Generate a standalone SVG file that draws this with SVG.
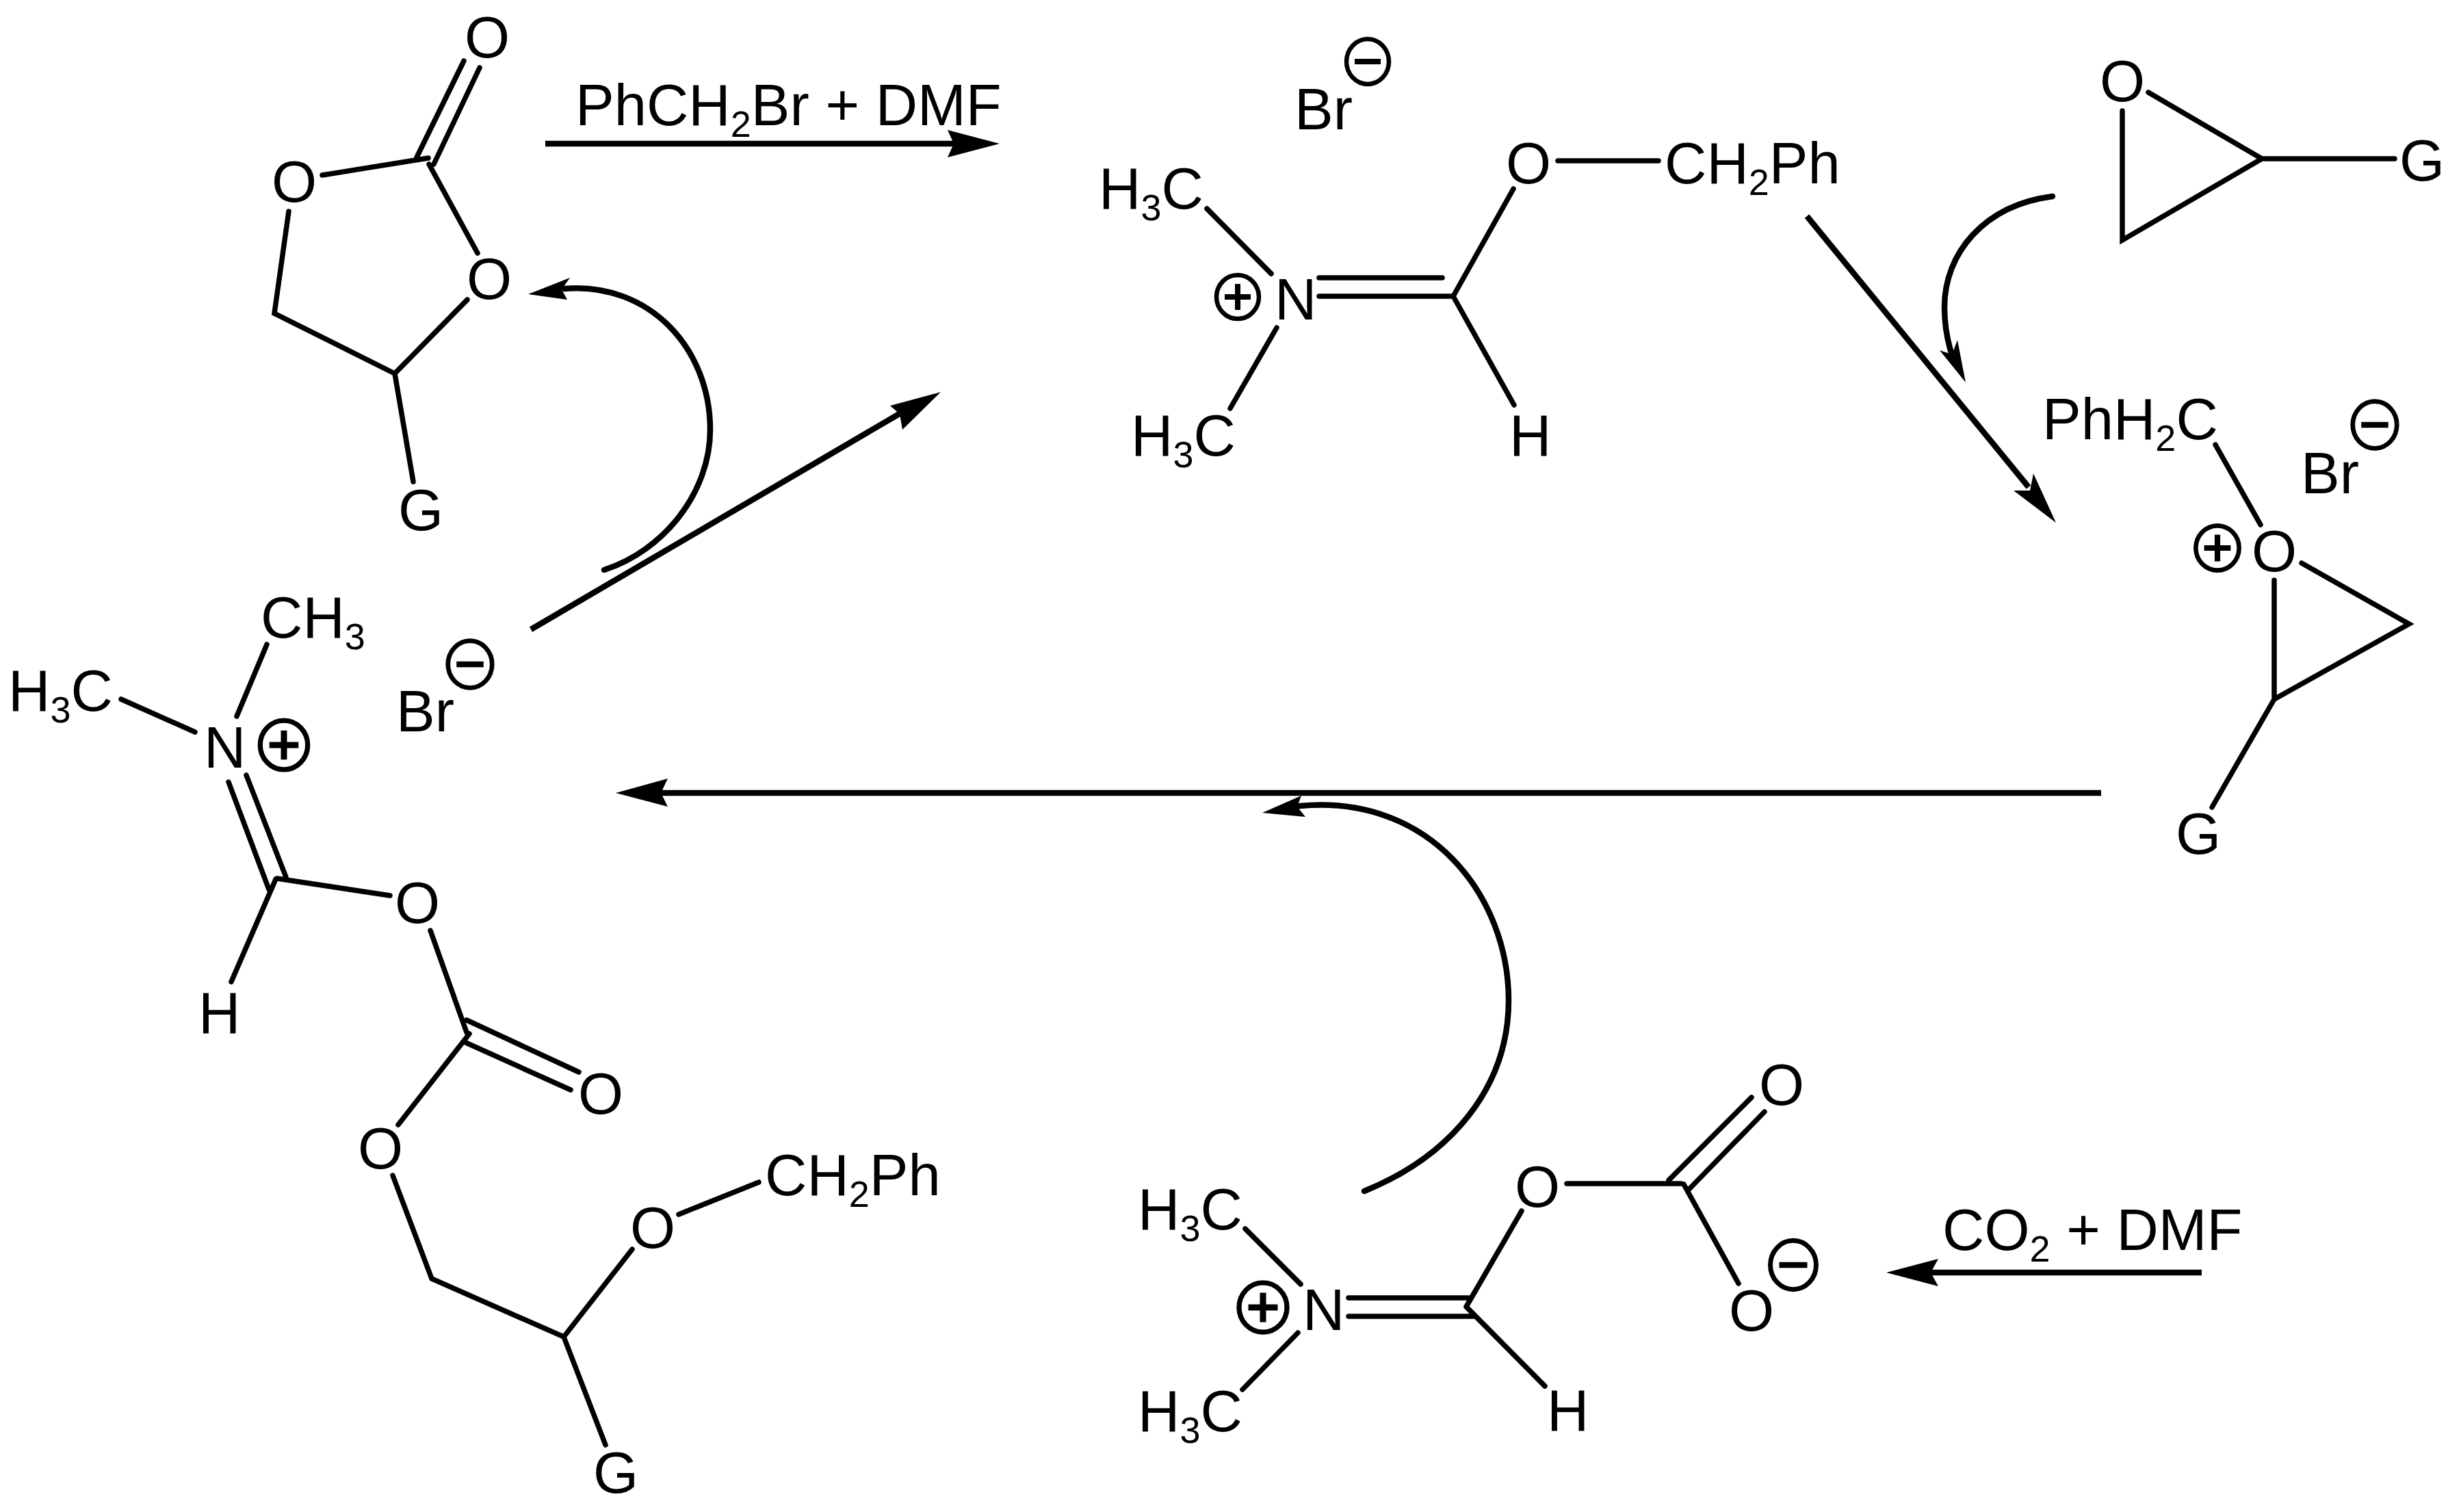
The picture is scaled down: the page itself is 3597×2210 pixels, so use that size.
<svg xmlns="http://www.w3.org/2000/svg" width="3597" height="2210" viewBox="0 0 3597 2210">
<style>
text{font-family:"Liberation Sans",Arial,sans-serif;font-size:85px;fill:#000}
.s{font-size:54px}
.b{fill:none;stroke:#000;stroke-width:7.5;stroke-linecap:round;stroke-linejoin:miter}
.k{fill:none;stroke:#000;stroke-width:8.5;stroke-linecap:round}
.a{fill:none;stroke:#000;stroke-width:8.5;stroke-linecap:butt}
.h{fill:#000;stroke:none}
.c{fill:none;stroke:#000;stroke-width:6.5}
.m{fill:none;stroke:#000;stroke-width:8}
</style>
<defs>
<g id="plus"><ellipse class="c" rx="31" ry="32"/><path class="m" d="M-19 0H19M0-19V19"/></g>
<g id="minus"><ellipse class="c" rx="31" ry="33"/><path class="m" d="M-19 0H19"/></g>
</defs>
<rect width="3597" height="2210" fill="#fff"/>
<g id="connectors">
<path class="a" d="M797 210H1395"/><polygon class="h" points="1461,210 1385,190 1394,210 1385,230"/>
<text x="841" y="183">PhCH<tspan class="s" dy="17">2</tspan><tspan dy="-17">Br + DMF</tspan></text>
<path class="a" d="M776 920L1316 604"/><polygon class="h" points="1375,573 1301,593 1315,605 1319,628"/>
<path class="k" d="M883 833C970 805 1038 720 1038 628C1038 510 950 412 825 422"/><polygon class="h" points="772,430 833,406 821,423 829,438"/>
<path class="a" d="M2641 316L2965 712"/><polygon class="h" points="3005,764 2972,692 2967,717 2943,717"/>
<path class="k" d="M3000 287C2900 300 2842 370 2842 449C2842 480 2848 505 2855 525"/><polygon class="h" points="2873,559 2835,512 2853,518 2861,497"/>
<path class="a" d="M3071 1159H966"/><polygon class="h" points="900,1159 976,1138 966,1159 976,1179"/>
<path class="k" d="M1994 1741C2120 1690 2205 1590 2205 1462C2205 1310 2090 1160 1900 1178"/><polygon class="h" points="1845,1188 1902,1163 1896,1179 1908,1194"/>
<path class="a" d="M3218 1860H2822"/><polygon class="h" points="2757,1860 2833,1840 2822,1860 2833,1880"/>
<text x="2839" y="1827">CO<tspan class="s" dy="17">2</tspan><tspan dy="-17"> + DMF</tspan></text>
</g>
<g id="cyclic-carbonate">
<path class="b" d="M678 89L609 230M701 99L634 240M626 231L471 256M422 309L401 458L577 546L683 438M627 240L698 370M577 546L604 704"/>
<text x="679" y="84">O</text><text x="397" y="295">O</text><text x="682" y="437">O</text><text x="582" y="775">G</text>
</g>
<g id="iminium-benzyl">
<path class="b" d="M2277 235H2424M1764 305L1858 400M1928 406H2108M1928 433H2124L2212 276M2124 433L2213 592M1866 479L1798 597"/>
<use href="#minus" transform="translate(1999 90)"/><use href="#plus" transform="translate(1809 434)"/>
<text x="1892" y="189">Br</text><text x="2201" y="268">O</text>
<text x="2433" y="268">CH<tspan class="s" dy="17">2</tspan><tspan dy="-17">Ph</tspan></text>
<text x="1606" y="305">H<tspan class="s" dy="17">3</tspan><tspan dy="-17">C</tspan></text>
<text x="1863" y="467">N</text><text x="2206" y="666">H</text>
<text x="1653" y="666">H<tspan class="s" dy="17">3</tspan><tspan dy="-17">C</tspan></text>
</g>
<g id="epoxide">
<path class="b" d="M3140 135L3306 232M3102 162V351L3306 232H3500"/>
<text x="3069" y="148">O</text><text x="3507" y="264">G</text>
</g>
<g id="oxonium">
<path class="b" d="M3238 650L3304 767M3364 823L3521 912L3324 1022V848M3324 1022L3233 1180"/>
<use href="#minus" transform="translate(3471 621) scale(1.04)"/><use href="#plus" transform="translate(3241 801) scale(1.02)"/>
<text x="2985" y="642">PhH<tspan class="s" dy="17">2</tspan><tspan dy="-17">C</tspan></text>
<text x="3363" y="721">Br</text><text x="3291" y="835">O</text><text x="3180" y="1248">G</text>
</g>
<g id="iminium-carbonate">
<path class="b" d="M390 942L346 1047M177 1022L285 1070M360 1133L418 1282M334 1143L393 1300M405 1284L570 1309M403 1285L338 1435M629 1360L682 1509M682 1491L846 1567M681 1524L834 1593M686 1511L582 1644M574 1718L631 1869L824 1954L924 1826M992 1775L1109 1728M824 1954L885 2112"/>
<use href="#plus" transform="translate(415 1089) scale(1.12)"/><use href="#minus" transform="translate(687 971) scale(1.04)"/>
<text x="381" y="932">CH<tspan class="s" dy="17">3</tspan></text>
<text x="12" y="1039">H<tspan class="s" dy="17">3</tspan><tspan dy="-17">C</tspan></text>
<text x="298" y="1122">N</text><text x="579" y="1069">Br</text><text x="290" y="1510">H</text>
<text x="577" y="1349">O</text><text x="845" y="1628">O</text><text x="523" y="1708">O</text><text x="921" y="1824">O</text>
<text x="1118" y="1747">CH<tspan class="s" dy="17">2</tspan><tspan dy="-17">Ph</tspan></text>
<text x="867" y="2182">G</text>
</g>
<g id="iminium-carboxylate">
<path class="b" d="M1820 1796L1901 1877M1971 1897H2147M1971 1924H2155M2143 1910L2224 1770M2143 1910L2258 2026M1897 1948L1816 2031M2290 1730H2457M2560 1604L2439 1725M2579 1625L2467 1740M2461 1731L2541 1876"/>
<use href="#plus" transform="translate(1846 1911) scale(1.13)"/><use href="#minus" transform="translate(2621 1849) scale(1.08)"/>
<text x="1663" y="1797">H<tspan class="s" dy="17">3</tspan><tspan dy="-17">C</tspan></text>
<text x="1904" y="1944">N</text><text x="2261" y="2091">H</text>
<text x="1663" y="2092">H<tspan class="s" dy="17">3</tspan><tspan dy="-17">C</tspan></text>
<text x="2214" y="1764">O</text><text x="2571" y="1615">O</text><text x="2527" y="1945">O</text>
</g>
</svg>
